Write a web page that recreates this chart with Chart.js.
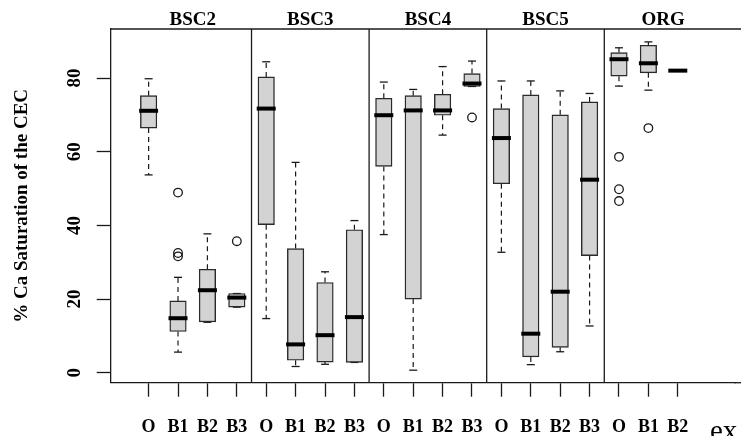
<!DOCTYPE html>
<html><head><meta charset="utf-8">
<script src="https://cdn.jsdelivr.net/npm/chart.js@4.4.1/dist/chart.umd.min.js"></script>
<style>html,body{margin:0;padding:0;background:#fff;overflow:hidden}#wrap{width:741px;height:436px;position:relative}</style>
</head><body><div id="wrap"><canvas id="c" width="741" height="436"></canvas></div>
<script>
const groups = ['BSC2','BSC3','BSC4','BSC5','ORG'];
const groupCenters = [1.5, 5.5, 9.5, 13.5, 17.5];
const separators = [3.5, 7.5, 11.5, 15.5];
const categories = ['O','B1','B2','B3','O','B1','B2','B3','O','B1','B2','B3','O','B1','B2','B3','O','B1','B2'];
const whiskerLow  = [53.7, 5.6, 13.7, 17.8, 14.7, 1.7, 2.3, 2.8, 37.5, 0.7, 64.5, 77.7, 32.7, 2.2, 5.7, 12.7, 77.8, 76.7, 81.9];
const q1          = [66.4, 11.2, 13.8, 17.8, 40.2, 3.4, 2.9, 2.8, 56.0, 20.0, 69.9, 77.7, 51.3, 4.3, 6.9, 31.8, 80.5, 81.4, 81.9];
const median      = [71.1, 14.8, 22.4, 20.4, 71.7, 7.7, 10.2, 15.1, 69.9, 71.2, 71.2, 78.5, 63.7, 10.6, 22.0, 52.4, 85.1, 84.0, 82.0];
const q3          = [75.2, 19.5, 28.1, 21.5, 80.3, 33.7, 24.5, 38.8, 74.5, 75.2, 75.6, 81.2, 71.7, 75.4, 70.0, 73.5, 86.9, 88.9, 82.1];
const whiskerHigh = [79.8, 25.9, 37.7, 21.5, 84.4, 57.1, 27.4, 41.3, 78.9, 76.9, 83.1, 84.6, 79.2, 79.2, 76.5, 75.8, 88.2, 89.8, 82.1];
const outlierIndex = [1, 1, 1, 3, 11, 16, 16, 16, 17];
const outlierValue = [48.9, 32.5, 31.6, 35.7, 69.3, 58.6, 49.8, 46.6, 66.4];
const yTicks = [0, 20, 40, 60, 80];
const yTitle = '% Ca Saturation of the CEC';

const FONT = "'Liberation Serif', 'Times New Roman', serif";
const INK = '#1a1a1a';

function seg(ctx, x1, y1, x2, y2){ ctx.beginPath(); ctx.moveTo(x1,y1); ctx.lineTo(x2,y2); ctx.stroke(); }

const boxExtras = {
  id: 'boxExtras',
  beforeDatasetsDraw(chart){
    const {ctx, scales:{x, y}} = chart;
    ctx.save();
    ctx.strokeStyle = INK;
    for (let i = 0; i < categories.length; i++){
      const cx = x.getPixelForValue(i);
      ctx.lineWidth = 1.2;
      ctx.setLineDash([5,4]);
      seg(ctx, cx, y.getPixelForValue(q3[i]), cx, y.getPixelForValue(whiskerHigh[i]));
      seg(ctx, cx, y.getPixelForValue(q1[i]), cx, y.getPixelForValue(whiskerLow[i]));
      ctx.setLineDash([]);
      ctx.lineWidth = 1.3;
      const hy = y.getPixelForValue(whiskerHigh[i]), ly = y.getPixelForValue(whiskerLow[i]);
      seg(ctx, cx-4, hy, cx+4, hy);
      seg(ctx, cx-4, ly, cx+4, ly);
    }
    ctx.restore();
  },
  afterDatasetsDraw(chart){
    const {ctx, chartArea:a, scales:{x, y}} = chart;
    ctx.save();
    ctx.strokeStyle = '#000';
    ctx.lineWidth = 4;
    ctx.lineCap = 'butt';
    for (let i = 0; i < categories.length; i++){
      const cx = x.getPixelForValue(i), my = y.getPixelForValue(median[i]);
      seg(ctx, cx-9.5, my, cx+9.5, my);
    }
    ctx.strokeStyle = INK;
    ctx.lineWidth = 1.3;
    separators.forEach(s => { const px = x.getPixelForValue(s); seg(ctx, px, a.top, px, a.bottom); });
    seg(ctx, a.left, a.top, chart.width, a.top);
    seg(ctx, a.right - 1, a.bottom, chart.width, a.bottom);
    ctx.restore();
  },
  afterDraw(chart){
    const {ctx, chartArea:a, scales:{x, y}} = chart;
    ctx.save();
    ctx.fillStyle = '#000';
    ctx.textBaseline = 'alphabetic';
    ctx.textAlign = 'center';
    ctx.font = 'bold 19px ' + FONT;
    groups.forEach((g, k) => ctx.fillText(g, x.getPixelForValue(groupCenters[k]), 24.5));
    ctx.font = 'bold 18px ' + FONT;
    categories.forEach((c, i) => ctx.fillText(c, x.getPixelForValue(i), 431.5));
    ctx.font = 'bold 19px ' + FONT;
    yTicks.forEach(v => {
      ctx.save(); ctx.translate(79.5, y.getPixelForValue(v)); ctx.rotate(-Math.PI/2);
      ctx.fillText(String(v), 0, 0); ctx.restore();
    });
    ctx.save(); ctx.translate(26.7, (a.top + a.bottom)/2); ctx.rotate(-Math.PI/2);
    ctx.fillText(yTitle, 0, 0); ctx.restore();
    ctx.textAlign = 'left';
    ctx.font = '29px ' + FONT;
    ctx.fillText('ex', 710, 440);
    ctx.restore();
  }
};

new Chart(document.getElementById('c'), {
  type: 'bar',
  data: {
    datasets: [
      {
        type: 'bar',
        data: categories.map((c, i) => ({x: i, y: [q1[i], q3[i]]})),
        backgroundColor: '#d3d3d3',
        borderColor: '#2a2a2a',
        borderWidth: 1.4,
        borderSkipped: false,
        barThickness: 16.5
      },
      {
        type: 'scatter',
        data: outlierIndex.map((k, j) => ({x: k, y: outlierValue[j]})),
        pointStyle: 'circle',
        pointRadius: 4.3,
        backgroundColor: 'rgba(0,0,0,0)',
        borderColor: INK,
        borderWidth: 1.3
      }
    ]
  },
  options: {
    responsive: false,
    animation: false,
    devicePixelRatio: 1,
    layout: { padding: { top: 29, left: 0, right: 0, bottom: 0 } },
    plugins: { legend: { display: false }, tooltip: { enabled: false } },
    scales: {
      x: {
        type: 'linear', min: -1.29, max: 19.96, offset: false,
        grid: { offset: false, drawOnChartArea: false, drawTicks: true, tickLength: 14, tickColor: INK, tickWidth: 1.3 },
        border: { display: true, color: INK, width: 1.3 },
        ticks: { display: false },
        afterBuildTicks: s => { s.ticks = categories.map((c, i) => ({value: i})); },
        afterFit: s => { s.height = 53.3; }
      },
      y: {
        type: 'linear', min: -2.7, max: 93.3,
        grid: { drawOnChartArea: false, drawTicks: true, tickLength: 14, tickColor: INK, tickWidth: 1.3 },
        border: { display: true, color: INK, width: 1.3 },
        ticks: { display: false },
        afterBuildTicks: s => { s.ticks = yTicks.map(v => ({value: v})); },
        afterFit: s => { s.width = 110.7; }
      }
    }
  },
  plugins: [boxExtras]
});
</script>
</body></html>
